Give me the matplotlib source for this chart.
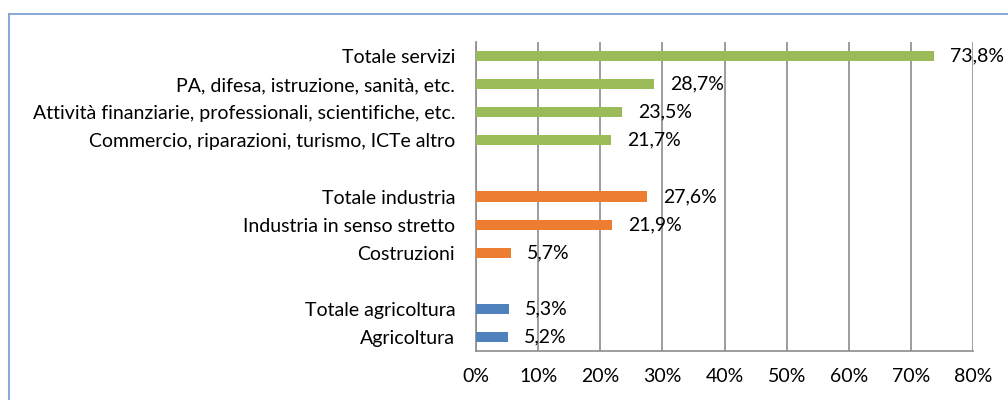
import matplotlib
matplotlib.use("Agg")
import matplotlib.pyplot as plt
from matplotlib.lines import Line2D

plt.rcParams['font.family'] = ['Lato', 'DejaVu Sans']

categories = ["Totale servizi", "PA, difesa, istruzione, sanità, etc.",
              "Attività finanziarie, professionali, scientifiche, etc.",
              "Commercio, riparazioni, turismo, ICTe altro", "",
              "Totale industria", "Industria in senso stretto", "Costruzioni", "",
              "Totale agricoltura", "Agricoltura"]
values = [73.8, 28.7, 23.5, 21.7, None, 27.6, 21.9, 5.7, None, 5.3, 5.2]
groups = ["serv", "serv", "serv", "serv", None, "ind", "ind", "ind", None, "agr", "agr"]
group_colors = {"serv": "#9BBB59", "ind": "#ED7D31", "agr": "#4F81BD"}
xticks = [0, 10, 20, 30, 40, 50, 60, 70, 80]

FS = 14

fig = plt.figure(figsize=(10.08, 4.0), dpi=100)
ax = fig.add_axes([476/1008, 1-351/400, (973-476)/1008, (351-42)/400])

n = len(categories)
ypos = list(range(n))
for y, v, g in zip(ypos, values, groups):
    if v is None:
        continue
    ax.barh(y, v, height=0.36, color=group_colors[g], zorder=3)
    ax.annotate(f"{v:.1f}%".replace(".", ","), xy=(v, y), xytext=(16, 0),
                textcoords="offset pixels",
                va="center", ha="left", fontsize=FS, color="#000000", zorder=4)

ax.set_ylim(n - 0.5, -0.5)
ax.set_xlim(0, 80)
ax.set_yticks(ypos)
ax.set_yticklabels(categories, fontsize=FS)
ax.set_xticks(xticks)
ax.set_xticklabels([f"{t}%" for t in xticks], fontsize=FS)
ax.tick_params(axis='both', length=0)
ax.tick_params(axis='y', pad=15)
ax.tick_params(axis='x', pad=12)
ax.grid(axis='x', color='#8C8C8C', linewidth=1.2, zorder=0)
for s in ['top', 'right']:
    ax.spines[s].set_visible(False)
ax.spines['left'].set_color('#8C8C8C')
ax.spines['bottom'].set_color('#8C8C8C')
ax.spines['left'].set_linewidth(1.2)
ax.spines['bottom'].set_linewidth(1.2)

# outer chart border (left and top visible)
fig.add_artist(Line2D([9/1008, 9/1008], [0, 1-14/400], color='#7EA1D4', linewidth=1.3, transform=fig.transFigure))
fig.add_artist(Line2D([9/1008, 1], [1-14/400, 1-14/400], color='#7EA1D4', linewidth=1.3, transform=fig.transFigure))

fig.savefig("out.png", dpi=100)
